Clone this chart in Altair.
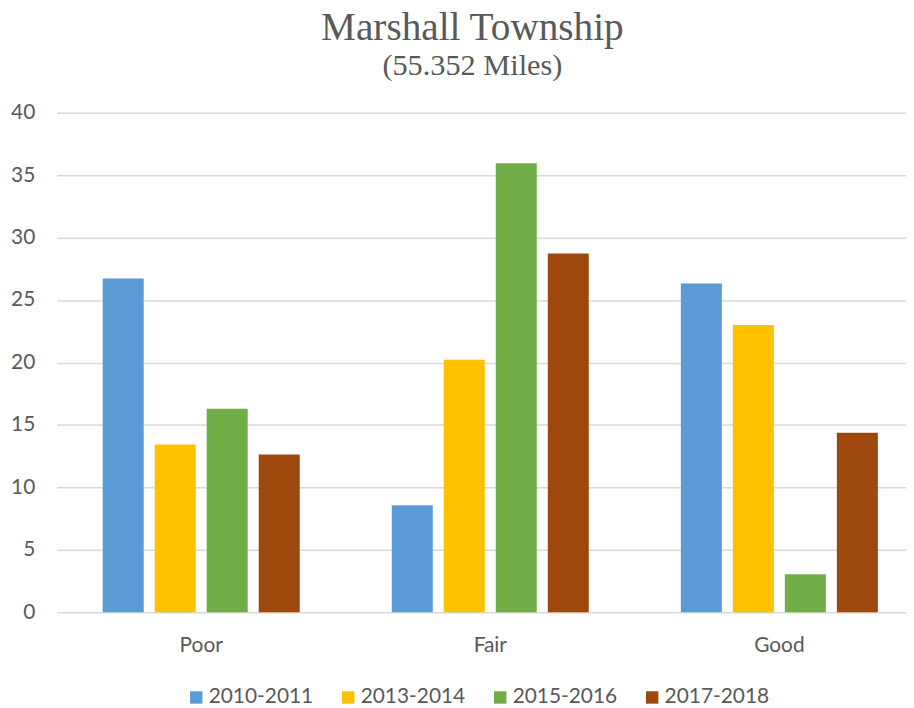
import altair as alt
import pandas as pd

categories = ["Poor", "Fair", "Good"]
series = ["2010-2011", "2013-2014", "2015-2016", "2017-2018"]
v2010 = [26.72, 8.56, 26.32]
v2013 = [13.44, 20.22, 23.0]
v2015 = [16.3, 35.94, 3.05]
v2017 = [12.64, 28.73, 14.37]
colors = ["#5B9BD5", "#FFC000", "#70AD47", "#9E480E"]
y_ticks = [0, 5, 10, 15, 20, 25, 30, 35, 40]

rows = []
for s, vals in zip(series, [v2010, v2013, v2015, v2017]):
    for c, v in zip(categories, vals):
        rows.append({"Condition": c, "Period": s, "Miles": v})
df = pd.DataFrame(rows)

FONT = "Lato"
GRAY = "#595959"

chart = alt.Chart(df).mark_bar().encode(
    x=alt.X("Condition:N", sort=categories, title=None,
            scale=alt.Scale(range=[0, 873], paddingInner=0, paddingOuter=0),
            axis=alt.Axis(labelAngle=0, domain=False, ticks=False, labelPadding=22,
                          labelBaseline="top", labelFontSize=21, labelColor=GRAY,
                          labelFont=FONT)),
    xOffset=alt.XOffset("Period:N", sort=series,
                        scale=alt.Scale(paddingInner=0.2115, paddingOuter=0.885)),
    y=alt.Y("Miles:Q", title=None,
            scale=alt.Scale(domain=[0, 40], nice=False),
            axis=alt.Axis(values=y_ticks, domain=False, ticks=False, labelPadding=22,
                          labelFontSize=21, labelColor=GRAY, labelFont=FONT,
                          gridColor="#D9D9D9", gridWidth=1.5)),
    color=alt.Color("Period:N", sort=series,
                    scale=alt.Scale(domain=series, range=colors),
                    legend=alt.Legend(title=None, orient="none", direction="horizontal",
                                      columns=4, legendX=130, legendY=578,
                                      symbolType="square", symbolSize=156,
                                      symbolStrokeWidth=0, labelFontSize=21,
                                      labelColor=GRAY, labelFont=FONT, labelOffset=2,
                                      columnPadding=24)),
).properties(
    width=855,
    height=503,
    autosize=alt.AutoSizeParams(type="none"),
    padding={"left": 49, "top": 103, "right": 0, "bottom": 94},
    title=alt.TitleParams(
        text="Marshall Township",
        subtitle="(55.352 Miles)",
        font="Liberation Serif",
        fontSize=39.5,
        fontWeight="normal",
        color=GRAY,
        subtitleFont="Liberation Serif",
        subtitleFontSize=30.5,
        subtitleColor=GRAY,
        subtitlePadding=3,
        anchor="middle",
        frame="group",
        dx=-9,
        offset=19,
    ),
).configure_view(stroke=None)

chart.save("out.html", embed_options={"renderer": "svg", "actions": False})
